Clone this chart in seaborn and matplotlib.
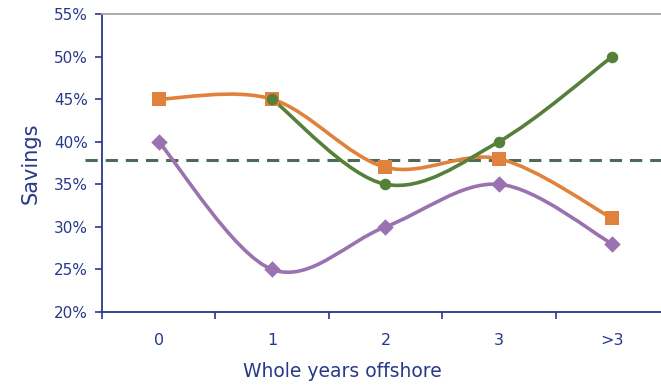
import numpy as np
import pandas as pd
import seaborn as sns
import matplotlib
matplotlib.use("Agg")
import matplotlib.pyplot as plt
from matplotlib.path import Path
from matplotlib.patches import PathPatch

# Savings by whole years spent offshore
categories = ["0", "1", "2", "3", ">3"]
series_orange = [45, 45, 37, 38, 31]
series_green = [None, 45, 35, 40, 50]
series_purple = [40, 25, 30, 35, 28]
average_line = 37.8
y_ticks = [20, 25, 30, 35, 40, 45, 50, 55]

NAVY = "#27398a"
ORANGE = "#e0823d"
GREEN = "#56803a"
PURPLE = "#9a72b0"
DASH = "#4b6b58"

sns.set_theme(style="white")
plt.rcParams["font.family"] = ["DejaVu Sans"]

fig = plt.figure(figsize=(6.61, 3.86), dpi=100)
ax = fig.add_axes([102 / 661, 1 - 312 / 386, 1 - 102 / 661, (312 - 14) / 386])

rows = []
for name, vals in [("orange", series_orange), ("green", series_green), ("purple", series_purple)]:
    for i, v in enumerate(vals):
        if v is not None:
            rows.append({"series": name, "x": i, "value": v})
df = pd.DataFrame(rows)


def smooth_path(xs, ys):
    """Cubic Bezier path through the points (Catmull-Rom style tangents)."""
    pts = np.column_stack([xs, ys]).astype(float)
    n = len(pts)
    verts = [pts[0]]
    codes = [Path.MOVETO]
    for i in range(n - 1):
        p0 = pts[i - 1] if i > 0 else pts[i]
        p1 = pts[i]
        p2 = pts[i + 1]
        p3 = pts[i + 2] if i + 2 < n else pts[i + 1]
        c1 = p1 + (p2 - p0) / 6.0
        c2 = p2 - (p3 - p1) / 6.0
        verts += [c1, c2, p2]
        codes += [Path.CURVE4] * 3
    return Path(verts, codes)


styles = {
    "orange": (ORANGE, "s", 9.4),
    "green": (GREEN, "o", 8.3),
    "purple": (PURPLE, "D", 8.4),
}

for name, (color, marker, ms) in styles.items():
    sub = df[df.series == name]
    patch = PathPatch(smooth_path(sub.x.values, sub.value.values), facecolor="none",
                      edgecolor=color, lw=2.6, zorder=3, capstyle="round")
    ax.add_patch(patch)
    sns.scatterplot(data=sub, x="x", y="value", marker=marker, s=ms ** 2, color=color,
                    edgecolor=color, linewidth=0, ax=ax, zorder=4, legend=False)

ax.plot([-0.65, 4.43], [average_line, average_line], linestyle=(0, (4, 2.6)), lw=2.2,
        color=DASH, clip_on=False, zorder=2)

ax.set_xlim(-0.5, 4.43)
ax.set_ylim(20, 55)

ax.set_yticks(y_ticks)
ax.set_yticklabels([f"{t}%" for t in y_ticks])
ax.tick_params(axis="y", which="major", direction="out", length=5, width=1.2, color=NAVY,
               pad=5, labelsize=11, labelcolor=NAVY, left=True)

# category boundaries get the ticks, category centres get the labels
ax.set_xticks(np.arange(-0.5, 4.5, 1.0))
ax.set_xticklabels([])
ax.set_xticks(range(len(categories)), minor=True)
ax.set_xticklabels(categories, minor=True)
ax.tick_params(axis="x", which="major", direction="out", length=5, width=1.2, color=NAVY, bottom=True)
ax.tick_params(axis="x", which="minor", length=0, pad=15, labelsize=11.5, labelcolor=NAVY)

ax.set_ylabel("Savings", color=NAVY, fontsize=15, labelpad=10)
ax.set_xlabel("Whole years offshore", color=NAVY, fontsize=13.5, labelpad=10)
ax.xaxis.label.set_x((342 - 102) / 559)

for side in ["left", "bottom"]:
    ax.spines[side].set_color(NAVY)
    ax.spines[side].set_linewidth(1.3)
ax.spines["top"].set_color("#a6a6a6")
ax.spines["top"].set_linewidth(1.3)
ax.spines["right"].set_visible(False)

fig.savefig("out.png", dpi=100)
